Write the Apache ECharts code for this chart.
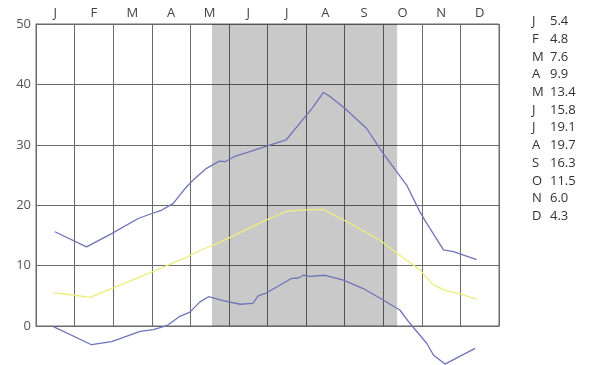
<!DOCTYPE html>
<html>
<head>
<meta charset="utf-8">
<style>
  html, body { margin: 0; padding: 0; background: #fff; }
  #chart { width: 599px; height: 365px; }
</style>
<script src="https://cdn.jsdelivr.net/npm/echarts@6/dist/echarts.min.js"></script>
</head>
<body>
<div id="chart"></div>
<script>
// months on the top axis
const months = ['J', 'F', 'M', 'A', 'M', 'J', 'J', 'A', 'S', 'O', 'N', 'D']
// monthly mean values listed at the right
const monthlyMean = ['5.4', '4.8', '7.6', '9.9', '13.4', '15.8', '19.1', '19.7', '16.3', '11.5', '6.0', '4.3']
const yTicks = [0, 10, 20, 30, 40, 50]

// x = position in months (0.5 = middle of January)
const maxTemp = [
  [0.49, 15.6], [1.31, 13.1], [1.96, 15.3], [2.65, 17.8], [2.95, 18.5], [3.26, 19.2],
  [3.56, 20.3], [3.73, 21.7], [3.91, 23.1], [4.08, 24.2], [4.42, 26.1], [4.75, 27.3],
  [4.9, 27.2], [5.16, 28.1], [5.98, 29.8], [6.48, 30.8], [7.15, 36.0], [7.45, 38.7],
  [7.62, 38.0], [8.01, 36.0], [8.57, 32.7], [8.96, 28.9], [9.61, 23.3], [9.95, 18.9],
  [10.08, 17.5], [10.56, 12.6], [10.82, 12.3], [11.42, 11.0]
]
const meanTemp = [
  [0.45, 5.5], [0.75, 5.3], [1.4, 4.75], [1.96, 6.2], [2.95, 8.8], [3.91, 11.4],
  [4.25, 12.5], [4.68, 13.6], [4.98, 14.5], [5.94, 17.5], [6.5, 19.0], [6.84, 19.2],
  [7.45, 19.3], [7.88, 17.8], [8.05, 17.3], [8.92, 14.2], [9.35, 12.1], [9.95, 9.3],
  [10.3, 6.8], [10.6, 5.9], [11.0, 5.3], [11.42, 4.4]
]
const minTemp = [
  [0.45, -0.1], [1.44, -3.1], [1.96, -2.6], [2.7, -0.9], [3.04, -0.6], [3.39, 0.05],
  [3.73, 1.6], [3.99, 2.3], [4.25, 4.0], [4.47, 4.85], [4.85, 4.2], [5.29, 3.6],
  [5.62, 3.75], [5.76, 4.97], [5.98, 5.5], [6.63, 7.9], [6.8, 7.95], [6.93, 8.4],
  [7.1, 8.2], [7.49, 8.4], [7.97, 7.6], [8.48, 6.2], [8.92, 4.6], [9.43, 2.65],
  [9.69, 0.45], [10.13, -2.9], [10.3, -4.8], [10.6, -6.3], [11.38, -3.7]
]
// shaded season, in months
const shadedSpan = [4.56, 9.36]

const chart = echarts.init(document.getElementById('chart'))
const font = '"Open Sans", sans-serif'
const gridColor = '#6a6a6a'

// list at the right
const listTexts = []
months.forEach((m, i) => {
  listTexts.push({
    type: 'text', left: 532, top: 15 + i * 17.7,
    style: { text: m, font: '13px ' + font, fill: '#333' }
  })
  listTexts.push({
    type: 'text', left: 550, top: 15 + i * 17.7,
    style: { text: monthlyMean[i], font: '13px ' + font, fill: '#333' }
  })
})

const lineSeries = (data, color) => ({
  type: 'line',
  xAxisIndex: 1,
  data: data,
  showSymbol: false,
  clip: false,
  silent: true,
  lineStyle: { color: color, width: 1.3 },
  z: 3
})

chart.setOption({
  animation: false,
  grid: {
    left: 36, right: 100, top: 24, bottom: 39,
    show: true, borderColor: gridColor, borderWidth: 1
  },
  xAxis: [{
    type: 'category',
    position: 'top',
    data: months,
    boundaryGap: true,
    axisLine: { show: true, lineStyle: { color: gridColor } },
    axisTick: { show: false },
    axisLabel: { color: '#444', fontSize: 13, fontFamily: font, margin: 4 },
    splitLine: { show: true, lineStyle: { color: gridColor, width: 1 } }
  }, {
    type: 'value',
    min: 0, max: 12,
    show: false
  }],
  yAxis: {
    type: 'value',
    min: yTicks[0], max: yTicks[yTicks.length - 1], interval: 10,
    axisLine: { show: true, lineStyle: { color: gridColor } },
    axisTick: { show: false },
    axisLabel: { color: '#555', fontSize: 13, fontFamily: font, margin: 5 },
    splitLine: { show: true, lineStyle: { color: gridColor, width: 1 } }
  },
  graphic: listTexts,
  series: [
    Object.assign(lineSeries(maxTemp, '#6f74b8'), {
      markArea: {
        silent: true,
        itemStyle: { color: 'rgba(0,0,0,0.21)' },
        data: [[{ xAxis: shadedSpan[0], yAxis: yTicks[0] }, { xAxis: shadedSpan[1], yAxis: yTicks[yTicks.length - 1] }]]
      }
    }),
    lineSeries(meanTemp, '#eded7c'),
    lineSeries(minTemp, '#6f74b8')
  ]
})
</script>
</body>
</html>
